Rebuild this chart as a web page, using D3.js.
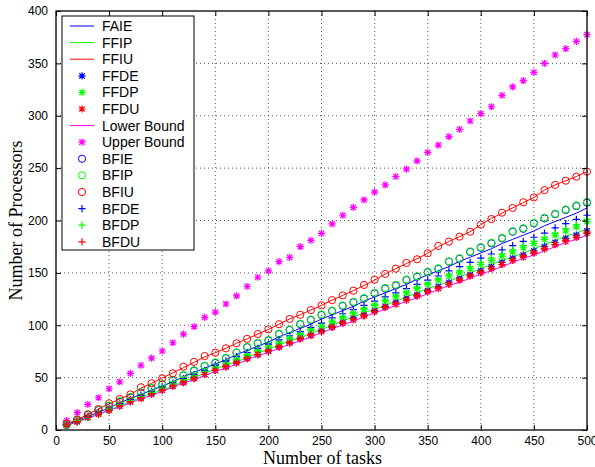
<!DOCTYPE html>
<html>
<head>
<meta charset="utf-8">
<script src="https://cdn.jsdelivr.net/npm/d3@7.9.0/dist/d3.min.js"></script>
<style>
  body { margin: 0; background: #fff; }
  svg { display: block; }
  .tick text { font-family: "Liberation Sans", Arial, sans-serif; font-size: 12px; }
</style>
</head>
<body>
<svg width="595" height="467"></svg>
<script>
const tasks = [10, 20, 30, 40, 50, 60, 70, 80, 90, 100, 110, 120, 130, 140, 150, 160, 170, 180, 190, 200,
  210, 220, 230, 240, 250, 260, 270, 280, 290, 300, 310, 320, 330, 340, 350, 360, 370, 380, 390, 400,
  410, 420, 430, 440, 450, 460, 470, 480, 490, 500];

const faie = [5, 9, 13, 17, 21, 26, 30, 34, 38, 42, 46, 51, 55, 59, 63, 67, 72, 76, 80, 84,
  89, 93, 97, 101, 106, 110, 114, 118, 123, 127, 131, 135, 139, 144, 148, 152, 156, 161, 165, 169,
  173, 178, 182, 186, 190, 195, 199, 203, 207, 212];
const ffip = [4, 8, 12, 15, 19, 23, 27, 31, 35, 38, 42, 46, 50, 54, 58, 62, 65, 69, 73, 77,
  81, 85, 88, 92, 96, 100, 104, 108, 112, 115, 119, 123, 127, 131, 135, 138, 142, 146, 150, 154,
  158, 162, 165, 169, 173, 177, 181, 185, 188, 192];
const ffiu = [6, 10, 15, 20, 25, 29.6, 34, 40, 44.6, 49.6, 54.5, 59.5, 64.5, 69.8, 73.8, 78, 82.8, 87, 91.6, 96,
  101, 106, 110, 114.5, 119, 124, 128.5, 133, 138, 143, 149, 154, 159, 163.5, 168.7, 175, 180, 184.6, 189.3, 196,
  202, 207, 212, 217, 222, 229, 234, 238, 242, 246.6];
const ffde = [5, 8, 12, 16, 19, 23, 27, 31, 35, 38, 42, 46, 50, 53, 57, 61, 65, 69, 72, 76,
  80, 84, 88, 91, 95, 99, 103, 107, 110, 114, 118, 122, 126, 129, 133, 137, 141, 145, 148, 152,
  156, 160, 164, 167, 171, 175, 179, 183, 186, 190];
const ffdp = [5, 8, 12, 16, 20, 24, 28, 32, 36, 40, 44, 48, 51, 55, 59, 63, 67, 71, 75, 79,
  83, 87, 91, 95, 99, 103, 107, 111, 115, 119, 123, 127, 131, 135, 139, 143, 147, 150, 154, 158,
  162, 166, 170, 174, 178, 182, 186, 190, 194, 199];
const ffdu = [5, 8, 12, 15, 19, 23, 27, 30, 34, 38, 42, 45, 49, 53, 57, 60, 64, 68, 72, 75,
  79, 83, 87, 90, 94, 98, 102, 105, 109, 113, 117, 120, 124, 128, 132, 135, 139, 143, 147, 150,
  154, 158, 162, 165, 169, 173, 177, 180, 184, 188];
const lowerBound = [4, 8, 11, 15, 19, 22, 26, 30, 33, 37, 41, 45, 48, 52, 56, 59, 63, 67, 71, 74,
  78, 82, 85, 89, 93, 97, 100, 104, 108, 112, 115, 119, 123, 126, 130, 134, 138, 141, 145, 149,
  152, 156, 160, 164, 167, 171, 175, 179, 182, 186];
const upperBound = [9, 16.5, 24.5, 30.8, 39.4, 46, 54, 61.8, 68.7, 75.4, 83.3, 91.6, 98.6, 107.6, 112.6, 120.3, 128, 137, 145.8, 152,
  160.7, 164.8, 175, 181, 187.8, 196.7, 205, 212.6, 219.6, 227, 234, 242, 249, 257, 265, 272, 280, 287, 295, 302,
  308.6, 319.5, 327.5, 333.5, 341.5, 350, 358, 364, 371, 377.4];
const bfie = [4.8, 9.5, 14.3, 19, 23, 27, 31.2, 35.6, 39.8, 43.5, 47.5, 52, 56.6, 61, 64, 68.5, 73.8, 79, 82.8, 85.5,
  91.5, 95.5, 101, 105, 109.8, 113.6, 118.4, 121.9, 125.5, 130.5, 135, 138, 143.2, 146.3, 150.5, 153.8, 160.7, 163.5, 170, 174,
  178.2, 183, 189.3, 192, 197.3, 202, 206, 210, 213.8, 217];
const bfip = [5, 9.8, 14.5, 19.3, 23.4, 27.5, 31.5, 36, 40.2, 43.8, 48, 52.4, 57, 61.3, 64.6, 69, 74, 79.4, 83.2, 86,
  92, 96, 101.5, 105.5, 110.3, 114, 119, 122.4, 126, 131, 135.6, 138.6, 143.7, 146.8, 151, 154.4, 161, 164, 170.5, 174.6,
  178.8, 183.5, 189.8, 192.6, 197.8, 202.6, 206.5, 210.6, 214.4, 217.8];
const bfiu = [6, 10, 15, 20, 25.5, 29.6, 34, 40.8, 44.6, 49.4, 54.1, 60.4, 65, 70.6, 73.8, 78, 82.8, 87, 91.6, 96.1,
  101, 106, 110, 114.5, 119, 124, 128.5, 133, 138.5, 143.5, 149, 154, 159.5, 163, 168.7, 175.7, 179.8, 184.6, 189.3, 196,
  201.4, 207.5, 212, 217.4, 222, 229, 234, 238, 241.8, 246.6];
const bfde = [5, 9, 13, 17, 21, 25, 29, 33, 37, 41, 45, 49, 53, 57, 62, 66, 70, 74, 78, 82,
  86, 90, 94, 98, 102, 107, 111, 115, 119, 123, 127, 131, 135, 139, 143, 147, 152, 156, 160, 164,
  168, 172, 176, 180, 184, 188, 193, 197, 201, 205];
const bfdp = [5, 9, 12, 16, 20, 24, 28, 32, 36, 40, 44, 48, 52, 56, 60, 64, 68, 72, 76, 80,
  84, 88, 92, 96, 99, 104, 108, 112, 116, 120, 124, 128, 132, 136, 140, 144, 148, 152, 156, 160,
  164, 168, 172, 176, 180, 184, 188, 192, 196, 201];
const bfdu = [5, 8, 12, 16, 19, 23, 27, 31, 34, 38, 42, 46, 49, 53, 57, 61, 64, 68, 72, 76,
  79, 83, 87, 91, 94, 98, 102, 106, 109, 113, 117, 121, 124, 128, 132, 136, 139, 143, 147, 151,
  154, 158, 162, 166, 169, 173, 177, 181, 184, 188];

const xTicks = [0, 50, 100, 150, 200, 250, 300, 350, 400, 450, 500];
const yTicks = [0, 50, 100, 150, 200, 250, 300, 350, 400];

// series in plotting order: name, values, colour, line or marker
const series = [
  {name: 'FAIE', values: faie, color: '#0000ff', type: 'line'},
  {name: 'FFIP', values: ffip, color: '#00ff00', type: 'line'},
  {name: 'FFIU', values: ffiu, color: '#ff0000', type: 'line'},
  {name: 'FFDE', values: ffde, color: '#0000ff', type: 'star'},
  {name: 'FFDP', values: ffdp, color: '#00ff00', type: 'star'},
  {name: 'FFDU', values: ffdu, color: '#ff0000', type: 'star'},
  {name: 'Lower Bound', values: lowerBound, color: '#ff00ff', type: 'line'},
  {name: 'Upper Bound', values: upperBound, color: '#ff00ff', type: 'star'},
  {name: 'BFIE', values: bfie, color: '#0000ff', type: 'circle'},
  {name: 'BFIP', values: bfip, color: '#00ff00', type: 'circle'},
  {name: 'BFIU', values: bfiu, color: '#ff0000', type: 'circle'},
  {name: 'BFDE', values: bfde, color: '#0000ff', type: 'plus'},
  {name: 'BFDP', values: bfdp, color: '#00ff00', type: 'plus'},
  {name: 'BFDU', values: bfdu, color: '#ff0000', type: 'plus'}
];

const margin = {top: 11, right: 8, bottom: 37, left: 56};
const width = 595 - margin.left - margin.right;
const height = 467 - margin.top - margin.bottom;

const svg = d3.select('svg');
const g = svg.append('g').attr('transform', `translate(${margin.left},${margin.top})`);

const x = d3.scaleLinear().domain([0, 500]).range([0, width]);
const y = d3.scaleLinear().domain([0, 400]).range([height, 0]);

// dotted grid
g.append('g').selectAll('line').data(xTicks.slice(1, -1)).join('line')
  .attr('x1', d => x(d)).attr('x2', d => x(d)).attr('y1', 0).attr('y2', height)
  .attr('stroke', '#555').attr('stroke-width', 1).attr('stroke-dasharray', '1,3');
g.append('g').selectAll('line').data(yTicks.slice(1, -1)).join('line')
  .attr('x1', 0).attr('x2', width).attr('y1', d => y(d)).attr('y2', d => y(d))
  .attr('stroke', '#555').attr('stroke-width', 1).attr('stroke-dasharray', '1,3');

function markerPath(type, s) {
  if (type === 'plus') return `M${-s},0H${s}M0,${-s}V${s}`;
  if (type === 'star') {
    const k = s * 0.75;
    return `M${-s},0H${s}M0,${-s}V${s}M${-k},${-k}L${k},${k}M${-k},${k}L${k},${-k}`;
  }
  return '';
}

function drawMarks(sel, sr, px, py) {
  if (sr.type === 'circle') {
    sel.append('circle').attr('cx', px).attr('cy', py).attr('r', 3.6)
      .attr('fill', 'none').attr('stroke', sr.color).attr('stroke-width', 1);
  } else if (sr.type === 'plus' || sr.type === 'star') {
    sel.append('path').attr('transform', `translate(${px},${py})`)
      .attr('d', markerPath(sr.type, 3.6))
      .attr('stroke', sr.color).attr('stroke-width', 1.2).attr('fill', 'none');
  }
}

const line = d3.line().x((d, i) => x(tasks[i])).y(d => y(d));

const plot = g.append('g');
series.forEach(sr => {
  if (sr.type === 'line') {
    plot.append('path').datum(sr.values).attr('d', line)
      .attr('fill', 'none').attr('stroke', sr.color).attr('stroke-width', 1);
  } else {
    const grp = plot.append('g');
    sr.values.forEach((v, i) => drawMarks(grp, sr, x(tasks[i]), y(v)));
  }
});

// axes with inward ticks on all four sides
const axisFont = '"Liberation Sans", Arial, sans-serif';
g.append('g').attr('transform', `translate(0,${height})`)
  .call(d3.axisBottom(x).tickValues(xTicks).tickSizeInner(-5).tickSizeOuter(0).tickPadding(6))
  .call(a => a.select('.domain').remove());
g.append('g')
  .call(d3.axisLeft(y).tickValues(yTicks).tickSizeInner(-5).tickSizeOuter(0).tickPadding(8))
  .call(a => a.select('.domain').remove());
g.append('g')
  .call(d3.axisTop(x).tickValues(xTicks).tickSizeInner(-5).tickSizeOuter(0).tickFormat(''))
  .call(a => a.select('.domain').remove());
g.append('g').attr('transform', `translate(${width},0)`)
  .call(d3.axisRight(y).tickValues(yTicks).tickSizeInner(-5).tickSizeOuter(0).tickFormat(''))
  .call(a => a.select('.domain').remove());
g.selectAll('.tick line').attr('stroke', '#000');
g.selectAll('.tick text').attr('fill', '#000').attr('font-family', axisFont);

g.append('rect').attr('width', width).attr('height', height)
  .attr('fill', 'none').attr('stroke', '#000').attr('stroke-width', 1.3);

// axis titles
svg.append('text').attr('x', margin.left + width / 2 + 1).attr('y', 464)
  .attr('text-anchor', 'middle').attr('font-family', '"Liberation Serif", "Times New Roman", serif')
  .attr('font-size', 18).text('Number of tasks');
svg.append('text').attr('transform', `translate(22,${margin.top + height / 2}) rotate(-90)`)
  .attr('text-anchor', 'middle').attr('font-family', '"Liberation Serif", "Times New Roman", serif')
  .attr('font-size', 18).text('Number of Processors');

// legend
const legend = svg.append('g').attr('transform', 'translate(62,16)');
legend.append('rect').attr('width', 132).attr('height', 234)
  .attr('fill', '#fff').attr('stroke', '#000').attr('stroke-width', 1);
series.forEach((sr, i) => {
  const cy = 10 + i * 16.6;
  const item = legend.append('g');
  if (sr.type === 'line') {
    item.append('line').attr('x1', 8).attr('x2', 32).attr('y1', cy).attr('y2', cy)
      .attr('stroke', sr.color).attr('stroke-width', 1);
  } else {
    drawMarks(item, sr, 20, cy);
  }
  item.append('text').attr('x', 40).attr('y', cy + 5)
    .attr('font-family', axisFont).attr('font-size', 14).text(sr.name);
});
</script>
</body>
</html>
